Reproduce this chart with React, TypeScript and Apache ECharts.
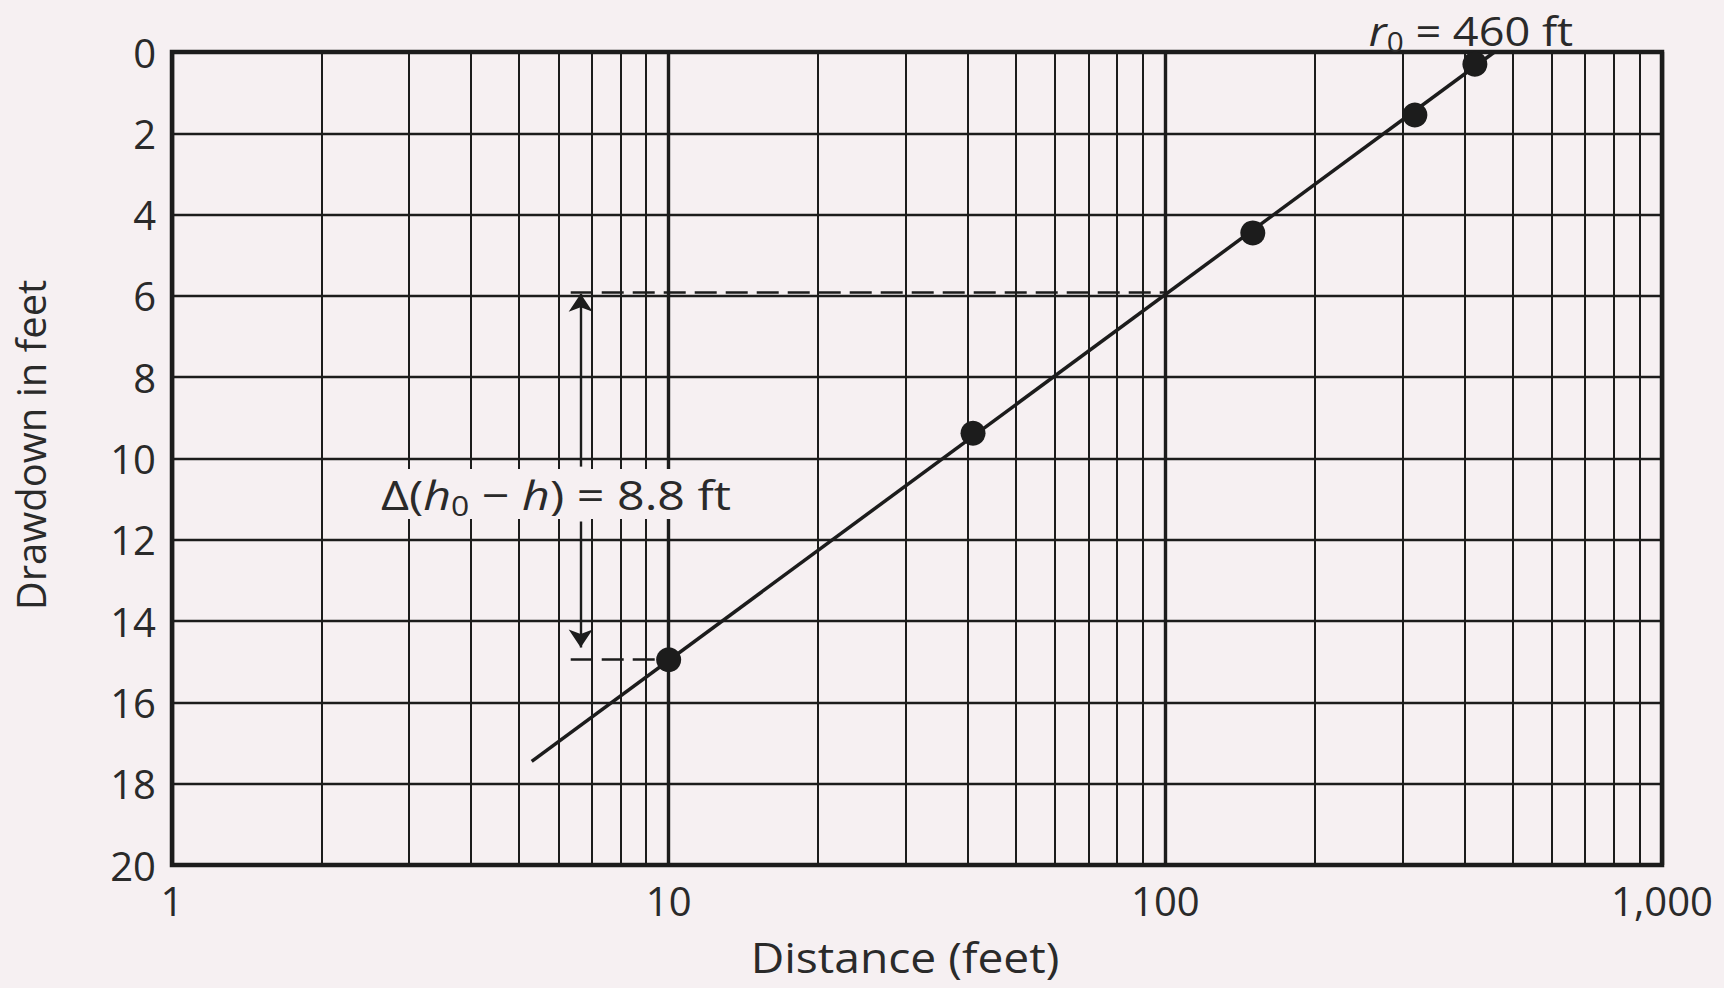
import React, { useEffect, useRef } from "react";
import * as echarts from "echarts";

// ---- data ----
const distanceFt = [10, 41, 150, 318, 420];
const drawdownFt = [14.95, 9.38, 4.45, 1.55, 0.3];
const fitDistanceFt = [5.3, 460];
const fitDrawdownFt = [17.45, 0];
const xTickValues = [1, 10, 100, 1000];
const xTickLabels = ["1", "10", "100", "1,000"];
const minorGridX = [2, 3, 4, 5, 6, 7, 8, 9, 20, 30, 40, 50, 60, 70, 80, 90, 200, 300, 400, 500, 600, 700, 800, 900];
const refLineStartX = 6.35;
const refUpperX = 100;
const refUpperY = 5.9;
const refLowerX = 10;
const refLowerY = 14.95;
const arrowX = 6.65;
const arrowUpFromTo = [10.2, 5.95];
const arrowDownFromTo = [11.55, 14.65];
const xAxisTitle = "Distance (feet)";
const yAxisTitle = "Drawdown in feet";

const BG = "#f6f0f2";
const INK = "#1c1c1c";
const TXT = "#2a2a2a";
const FONT = "'Open Sans', 'DejaVu Sans', sans-serif";

export default function App() {
  const ref = useRef<HTMLDivElement>(null);
  useEffect(() => {
    if (!ref.current) return;
    const chart = echarts.init(ref.current, undefined, { renderer: "svg" });
    const main = { fontFamily: FONT, fontSize: 41, fill: TXT, lineHeight: 50, verticalAlign: "middle" as const };
    const ital = { ...main, fontStyle: "italic" as const };
    const sub = { fontFamily: FONT, fontSize: 27, fill: TXT, lineHeight: 27, verticalAlign: "bottom" as const };
    chart.setOption({
      animation: false,
      backgroundColor: BG,
      grid: {
        left: 172,
        right: 62,
        top: 52,
        bottom: 123,
        show: true,
        borderColor: INK,
        borderWidth: 4.5,
        backgroundColor: "transparent",
      },
      xAxis: {
        type: "log",
        logBase: 10,
        min: 1,
        max: 1000,
        splitNumber: 3,
        axisLine: { show: false },
        axisTick: { show: false },
        axisLabel: {
          fontFamily: FONT,
          fontSize: 40,
          color: TXT,
          margin: 15,
          formatter: (v: number) => {
            const i = xTickValues.indexOf(Math.round(v));
            return i >= 0 ? xTickLabels[i] : "";
          },
        },
        splitLine: { show: true, lineStyle: { color: INK, width: 3.4 } },
      },
      yAxis: {
        type: "value",
        inverse: true,
        min: 0,
        max: 20,
        interval: 2,
        axisLine: { show: false },
        axisTick: { show: false },
        axisLabel: { fontFamily: FONT, fontSize: 40, color: TXT, margin: 16 },
        splitLine: { show: true, lineStyle: { color: INK, width: 2.3 } },
      },
      series: [
        {
          name: "minorGrid",
          type: "line",
          data: [],
          z: 1,
          silent: true,
          markLine: {
            silent: true,
            symbol: ["none", "none"],
            label: { show: false },
            lineStyle: { color: INK, width: 2, type: "solid" },
            emphasis: { disabled: true },
            data: minorGridX.map((v) => ({ xAxis: v })),
          },
        },
        {
          name: "refLines",
          type: "line",
          data: [],
          z: 3,
          silent: true,
          markLine: {
            silent: true,
            symbol: ["none", "none"],
            label: { show: false },
            lineStyle: { color: INK, width: 2.6, type: [22, 9] },
            emphasis: { disabled: true },
            data: [
              [{ coord: [refLineStartX, refUpperY] }, { coord: [refUpperX, refUpperY] }],
              [{ coord: [refLineStartX, refLowerY] }, { coord: [refLowerX, refLowerY] }],
            ],
          },
        },
        {
          name: "arrows",
          type: "line",
          data: [],
          z: 3,
          silent: true,
          markLine: {
            silent: true,
            symbol: ["none", "arrow"],
            symbolSize: 18,
            label: { show: false },
            lineStyle: { color: INK, width: 2.4, type: "solid" },
            itemStyle: { color: INK },
            emphasis: { disabled: true },
            data: [
              [{ coord: [arrowX, arrowUpFromTo[0]] }, { coord: [arrowX, arrowUpFromTo[1]] }],
              [{ coord: [arrowX, arrowDownFromTo[0]] }, { coord: [arrowX, arrowDownFromTo[1]] }],
            ],
          },
        },
        {
          name: "fit",
          type: "line",
          z: 4,
          showSymbol: false,
          symbol: "none",
          lineStyle: { color: INK, width: 3.5 },
          data: fitDistanceFt.map((x, i) => [x, fitDrawdownFt[i]]),
        },
        {
          name: "observed",
          type: "scatter",
          z: 5,
          symbol: "circle",
          symbolSize: 25,
          itemStyle: { color: INK, opacity: 1 },
          data: distanceFt.map((x, i) => [x, drawdownFt[i]]),
        },
      ],
      graphic: [
        {
          type: "text",
          x: 905,
          y: 957,
          scaleX: 1.1,
          z: 100,
          style: {
            text: xAxisTitle,
            fontFamily: FONT,
            fontSize: 42,
            lineHeight: 44,
            fill: TXT,
            align: "center",
            verticalAlign: "middle",
          },
        },
        {
          type: "text",
          x: 30,
          y: 445,
          rotation: Math.PI / 2,
          z: 100,
          style: {
            text: yAxisTitle,
            fontFamily: FONT,
            fontSize: 40,
            fill: TXT,
            align: "center",
            verticalAlign: "middle",
          },
        },
        {
          type: "text",
          x: 1471,
          y: 30,
          scaleX: 1.1,
          z: 100,
          style: {
            text: "{i|r}{s|0}{m| = 460 ft}",
            align: "center",
            verticalAlign: "middle",
            rich: { i: ital, s: sub, m: main },
          },
        },
        {
          type: "text",
          x: 556,
          y: 494,
          scaleX: 1.18,
          z: 100,
          style: {
            text: "{m|\u0394(}{i|h}{s|0}{m| \u2212 }{i|h}{m|) = 8.8 ft}",
            align: "center",
            verticalAlign: "middle",
            backgroundColor: BG,
            padding: [0, 4, 0, 4],
            rich: { i: ital, s: sub, m: main },
          },
        },
      ],
    });
    return () => chart.dispose();
  }, []);
  return (
    <div
      ref={ref}
      style={{ position: "absolute", left: 0, top: 0, width: 1724, height: 988, background: BG }}
    />
  );
}
